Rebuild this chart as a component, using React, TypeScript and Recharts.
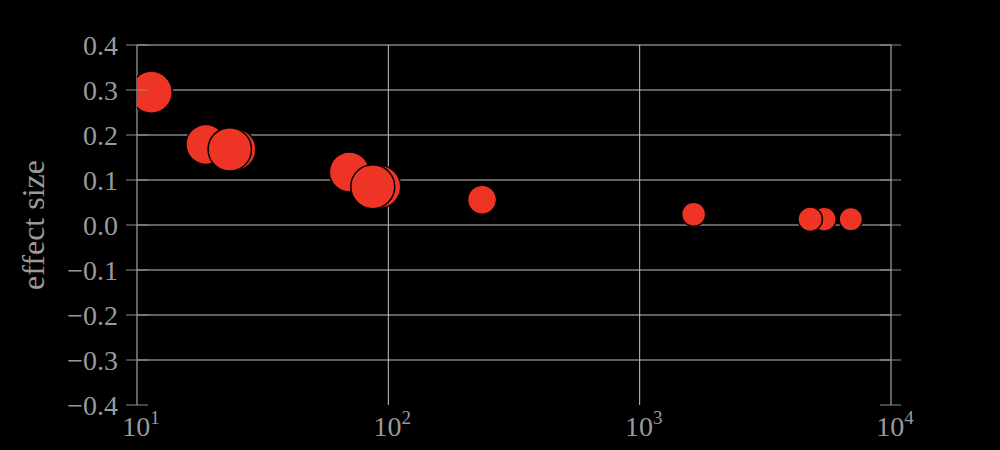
import React from "react";
import { ScatterChart, Scatter, XAxis, YAxis, ZAxis, CartesianGrid } from "recharts";

// sample size (log x), effect size, weight (marker area)
const sampleSizes = [11.4, 18.8, 24.5, 23.4, 70, 92, 86.7, 236, 1640, 5420, 4770, 6920];
const effectSizes = [0.295, 0.179, 0.168, 0.168, 0.118, 0.085, 0.085, 0.056, 0.024, 0.013, 0.013, 0.013];
const weights = [441, 400, 441, 471, 400, 462, 484, 210, 144, 144, 148, 137];

const xTicks = [10, 100, 1000, 10000];
const yTicks = [-0.4, -0.3, -0.2, -0.1, 0, 0.1, 0.2, 0.3, 0.4];
const gridY = [-0.3, -0.2, -0.1, 0, 0.1, 0.2, 0.3, 0.4];

const data = sampleSizes.map((n, i) => ({ n, es: effectSizes[i], w: weights[i] }));

const FONT = "'Liberation Serif', 'Times New Roman', serif";
const TEXT = "#9a9a9a";
const TICK = "#8c8c8c";
const GRID = "#c4c4c4";

const fmtY = (v: number) => (v < 0 ? "\u2212" : "") + Math.abs(v).toFixed(1);

function YTick(props: any) {
  const { y, payload } = props;
  return (
    <g>
      <line x1={126} x2={148} y1={y} y2={y} stroke={TICK} strokeWidth={1} />
      <line x1={880} x2={901} y1={y} y2={y} stroke={TICK} strokeWidth={1} />
      <text
        x={118}
        y={y}
        textAnchor="end"
        dominantBaseline="central"
        fill={TEXT}
        fontFamily={FONT}
        fontSize={28}
      >
        {fmtY(payload.value)}
      </text>
    </g>
  );
}

function XTick(props: any) {
  const { x, payload } = props;
  const exp = Math.round(Math.log10(payload.value));
  return (
    <text x={x + 4} y={436} textAnchor="middle" fill={TEXT} fontFamily={FONT} fontSize={28}>
      10
      <tspan fontSize={19} dy={-12}>
        {exp}
      </tspan>
    </text>
  );
}

export default function App() {
  return (
    <div style={{ width: 1000, height: 450, background: "#000" }}>
      <style>{`body{margin:0;background:#000}`}</style>
      <ScatterChart width={1000} height={450} margin={{ top: 45, right: 109, bottom: 0, left: 0 }}>
        <CartesianGrid
          stroke={GRID}
          strokeWidth={1}
          horizontalValues={gridY}
          verticalValues={xTicks}
        />
        <XAxis
          type="number"
          dataKey="n"
          scale="log"
          domain={[10, 10000]}
          ticks={xTicks}
          height={45}
          axisLine={false}
          tickLine={false}
          tick={<XTick />}
          allowDataOverflow
        />
        <YAxis
          type="number"
          dataKey="es"
          domain={[-0.4, 0.4]}
          ticks={yTicks}
          width={137}
          axisLine={false}
          tickLine={false}
          tick={<YTick />}
          allowDataOverflow
          label={{
            value: "effect size",
            angle: -90,
            position: "insideLeft",
            dx: 28,
            dy: 0,
            style: { fill: TEXT, fontFamily: FONT, fontSize: 32, textAnchor: "middle" },
          }}
        />
        <ZAxis type="number" dataKey="w" domain={[0, 484]} range={[0, 1520]} />
        <Scatter
          data={data}
          fill="#ee3424"
          stroke="#000"
          strokeWidth={1.5}
          isAnimationActive={false}
        />
      </ScatterChart>
    </div>
  );
}
